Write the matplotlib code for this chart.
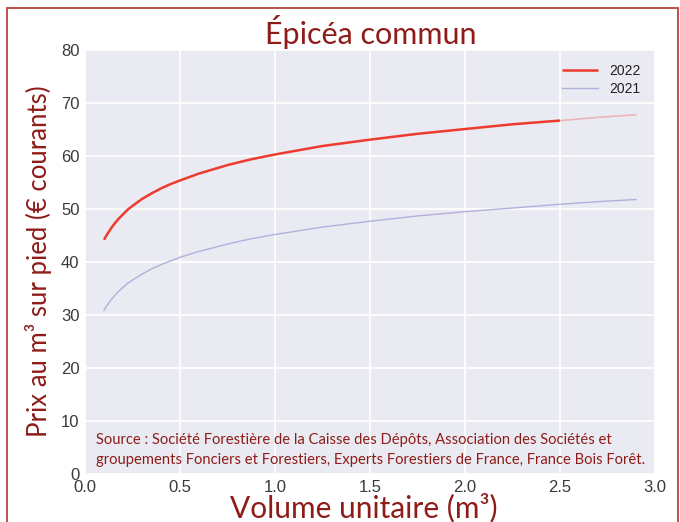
import matplotlib
matplotlib.use("Agg")
import matplotlib.pyplot as plt
from matplotlib.patches import Rectangle
import numpy as np

# ---- data ----
volume = [0.1, 0.11, 0.125, 0.14, 0.15, 0.175, 0.2, 0.225, 0.25, 0.3, 0.35, 0.4, 0.45,
          0.5, 0.6, 0.75, 0.875, 1.0, 1.25, 1.5, 1.75, 2.0, 2.25, 2.5, 2.7, 2.9]
prix_2022 = [44.2, 44.85, 45.7, 46.5, 47.0, 48.1, 49.0, 49.9, 50.6, 51.9, 52.95, 53.9, 54.7,
             55.4, 56.7, 58.3, 59.4, 60.3, 61.9, 63.1, 64.2, 65.1, 66.0, 66.7, 67.3, 67.8]
prix_2021 = [30.9, 31.5, 32.3, 33.0, 33.4, 34.4, 35.2, 36.0, 36.6, 37.7, 38.7, 39.5, 40.2,
             40.9, 42.0, 43.4, 44.4, 45.2, 46.6, 47.7, 48.7, 49.5, 50.2, 50.9, 51.4, 51.8]
limite_2022 = 2.5
series_labels = ["2022", "2021"]
x_ticks = [0.0, 0.5, 1.0, 1.5, 2.0, 2.5, 3.0]
y_ticks = [0, 10, 20, 30, 40, 50, 60, 70, 80]

title = "Épicéa commun"
xlabel = "Volume unitaire (m³)"
ylabel = "Prix au m³ sur pied (€ courants)"
source = ("Source : Société Forestière de la Caisse des Dépôts, Association des Sociétés et\n"
          "groupements Fonciers et Forestiers, Experts Forestiers de France, France Bois Forêt.")

DARK_RED = "#8e1c18"
RED = "#ee3b2e"
LAV = "#b2b0dc"

fig = plt.figure(figsize=(6.8, 5.22), dpi=100)
ax = fig.add_axes([0.125, 0.092, 0.838, 0.812])
ax.set_facecolor("#eaeaf2")
for s in ax.spines.values():
    s.set_visible(False)
ax.grid(True, color="white", linewidth=1.3)
ax.set_axisbelow(True)
ax.tick_params(length=0, labelsize=12, labelcolor="#3a3a3a", pad=4)

v = np.array(volume)
p22 = np.array(prix_2022)
m1 = v <= limite_2022
m2 = v >= limite_2022
ax.plot(v[m1], p22[m1], color=RED, lw=1.8, label=series_labels[0],
        solid_capstyle="butt", solid_joinstyle="round")
ax.plot(v[m2], p22[m2], color=RED, lw=1.2, alpha=0.3)
ax.plot(volume, prix_2021, color=LAV, lw=1.0, label=series_labels[1], solid_joinstyle="round")

ax.set_xlim(0, 3.0)
ax.set_ylim(0, 80)
ax.set_xticks(x_ticks)
ax.set_yticks(y_ticks)
ax.set_xticklabels([f"{t:.1f}" for t in x_ticks], family="Liberation Sans")
ax.set_yticklabels([str(t) for t in y_ticks], family="Liberation Sans")

leg = ax.legend(loc="upper right", frameon=False, prop={"family": "Liberation Sans", "size": 10},
                handlelength=2.6, borderaxespad=0.6, labelspacing=0.3)
for t in leg.get_texts():
    t.set_color("#222222")

ax.text(0.02, 0.097, source, transform=ax.transAxes, color=DARK_RED, fontsize=10.6,
        family="Lato", va="top", ha="left", linespacing=1.6)

fig.text(0.545, 0.938, title, color=DARK_RED, fontsize=22, family="Lato", ha="center", va="center")
fig.text(0.535, 0.027, xlabel, color=DARK_RED, fontsize=21.5, family="Lato", ha="center", va="center")
fig.text(0.056, 0.5, ylabel, color=DARK_RED, fontsize=18.5, family="Lato", ha="center", va="center",
         rotation=90)

fig.add_artist(Rectangle((7 / 680, -0.1), (678 - 7) / 680, 1.1 - 8 / 522,
                         transform=fig.transFigure, fill=False, edgecolor="#c0504d", lw=1.4))

fig.savefig("out.png", dpi=100)
